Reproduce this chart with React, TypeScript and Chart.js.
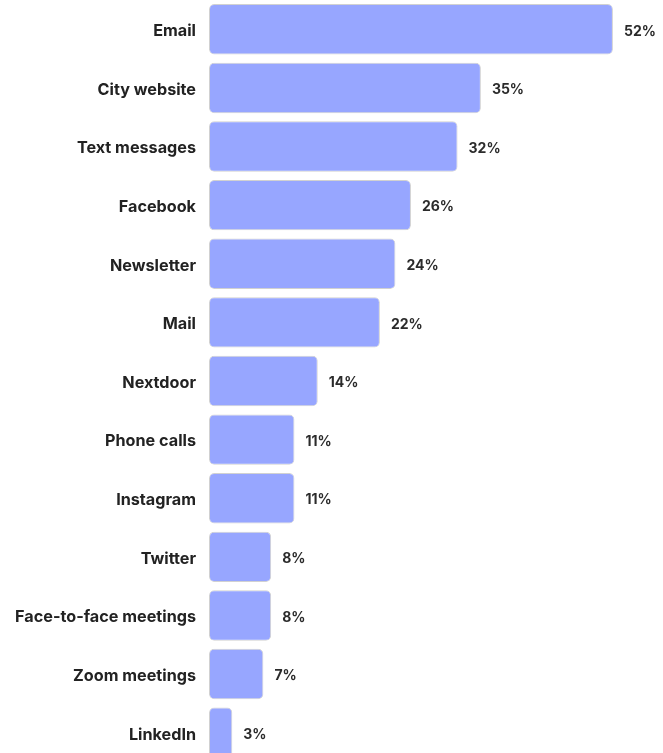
import React, { useEffect, useRef } from "react";
import { Chart, registerables } from "chart.js";

Chart.register(...registerables);

const categories = [
  "Email",
  "City website",
  "Text messages",
  "Facebook",
  "Newsletter",
  "Mail",
  "Nextdoor",
  "Phone calls",
  "Instagram",
  "Twitter",
  "Face-to-face meetings",
  "Zoom meetings",
  "LinkedIn",
];
const values = [52, 35, 32, 26, 24, 22, 14, 11, 11, 8, 8, 7, 3];

const BAR_COLOR = "#97a6ff";
const FONT = "Inter, 'Noto Sans', sans-serif";

const valueLabels = {
  id: "valueLabels",
  afterDatasetsDraw(chart: any) {
    const ctx = chart.ctx;
    const meta = chart.getDatasetMeta(0);
    ctx.save();
    ctx.font = `700 14px ${FONT}`;
    ctx.fillStyle = "#2b2b2b";
    ctx.textAlign = "left";
    ctx.textBaseline = "middle";
    meta.data.forEach((el: any, i: number) => {
      ctx.fillText(`${values[i]}%`, el.x + 11, el.y + 2);
    });
    ctx.restore();
  },
};

export default function App() {
  const ref = useRef<HTMLCanvasElement>(null);
  useEffect(() => {
    if (!ref.current) return;
    const chart = new Chart(ref.current, {
      type: "bar",
      data: {
        labels: categories,
        datasets: [
          {
            data: values,
            backgroundColor: BAR_COLOR,
            borderColor: "rgba(0,0,0,0.18)",
            borderWidth: 1,
            borderRadius: 5,
            borderSkipped: false,
            barPercentage: 0.86,
            categoryPercentage: 1,
          },
        ],
      },
      options: {
        indexAxis: "y",
        responsive: false,
        animation: false,
        layout: { padding: { top: 0, bottom: 0, left: 0, right: 19 } },
        plugins: {
          legend: { display: false },
          tooltip: { enabled: false },
        },
        scales: {
          x: {
            display: false,
            min: 0,
            max: 56,
          },
          y: {
            grid: { display: false, drawTicks: false },
            border: { display: false },
            afterFit: (scale: any) => {
              scale.width = 209;
              scale.paddingTop = 0;
              scale.paddingBottom = 0;
            },
            ticks: {
              padding: 13,
              labelOffset: 2,
              color: "#222222",
              font: { family: FONT, size: 16.2, weight: "700" },
            },
          },
        },
      },
      plugins: [valueLabels],
    });
    return () => chart.destroy();
  }, []);
  return (
    <div style={{ position: "absolute", left: 0, top: 0, width: 663, height: 762 }}>
      <canvas ref={ref} width={663} height={762} />
    </div>
  );
}
